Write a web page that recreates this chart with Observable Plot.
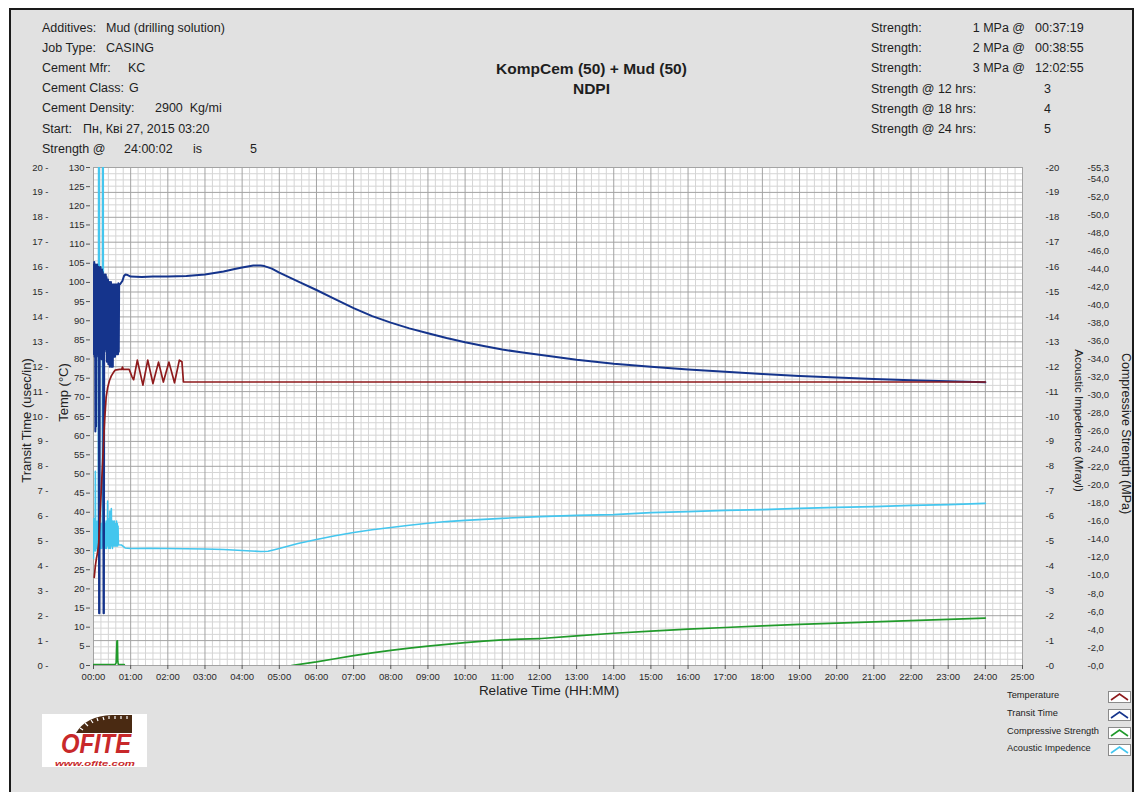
<!DOCTYPE html>
<html>
<head>
<meta charset="utf-8">
<script src="https://cdn.jsdelivr.net/npm/d3@7"></script>
<script src="https://cdn.jsdelivr.net/npm/@observablehq/plot@0.6"></script>
<style>
  html, body { margin: 0; padding: 0; background: #ffffff; }
  #page { position: relative; width: 1138px; height: 792px; overflow: hidden;
          font-family: "Liberation Sans", Arial, sans-serif; color: #1e1e1e; }
  #panel { position: absolute; left: 9px; top: 8px; width: 1121px; height: 800px;
           background: #e1e1e1; border: 2px solid #1a1a1a; border-bottom: none; }
  .t { position: absolute; font-size: 12.5px; line-height: 14px; white-space: pre; transform: translateY(-7px); }
  .title { position: absolute; left: 0; width: 1183px; text-align: center; font-weight: bold;
           font-size: 15.5px; line-height: 18px; transform: translateY(-9px); }
  #chart { position: absolute; left: 0; top: 155px; }
  .leg { position: absolute; left: 1007px; font-size: 9.3px; line-height: 12px; transform: translateY(-6px); color: #222; }
  .sw { position: absolute; left: 1108px; width: 23px; height: 12px; }
  #logo { position: absolute; left: 42px; top: 714px; width: 105px; height: 53px; background: #fff; }
</style>
</head>
<body>
<div id="page">
  <div id="panel"></div>
  <div id="header"></div>
  <div id="chart"></div>
  <div id="legend"></div>
  <div id="logo">
    <svg width="105" height="53" viewBox="0 0 105 53">
      <path d="M34 19 Q44 2 70 1 L90 1 L90 19 Z" fill="#4a2a12"/>
      <path d="M38 14 L41 16 M43 9 L46 12 M49 6 L51 9 M55 4 L56 7 M61 3 L62 6 M67 2 L67 5 M73 2 L73 5 M79 2 L79 5 M85 2 L85 5"
            stroke="#ffffff" stroke-width="1.2"/>
      <text x="54" y="38.5" text-anchor="middle" font-family="Liberation Sans, Arial, sans-serif"
            font-weight="bold" font-style="italic" font-size="27" fill="#c8282a"
            textLength="70" lengthAdjust="spacingAndGlyphs">OFITE</text>
      <text x="53" y="51.5" text-anchor="middle" font-family="Liberation Sans, Arial, sans-serif"
            font-weight="bold" font-style="italic" font-size="7.5" fill="#c8282a"
            textLength="80" lengthAdjust="spacingAndGlyphs">www.ofite.com</text>
    </svg>
  </div>
</div>
<script>
// ---- Test information -------------------------------------------------------
const jobInfo = [
  ["Additives:", "Mud (drilling solution)"],
  ["Job Type:", "CASING"],
  ["Cement Mfr:", "KC"],
  ["Cement Class:", "G"],
  ["Cement Density:", "2900  Kg/mi"],
  ["Start:", "Пн, Кві 27, 2015 03:20"],
  ["Strength @", "24:00:02"]
];
const finalStrengthWord = "is";
const finalStrengthValue = "5";
const chartTitle = "KompCem (50) + Mud (50)";
const chartSubtitle = "NDPI";
const strengthLabels = ["Strength:", "Strength:", "Strength:", "Strength @ 12 hrs:", "Strength @ 18 hrs:", "Strength @ 24 hrs:"];
const strengthTargets = ["1 MPa @", "2 MPa @", "3 MPa @", "", "", ""];
const strengthValues = ["00:37:19", "00:38:55", "12:02:55", "3", "4", "5"];

// ---- Series (time in hours) ---------------------------------------------------
// Temperature, °C
const temperature = [
  [0.02,23.0],[0.05,26.0],[0.08,28.0],[0.11,29.5],[0.14,32.0],[0.18,40.0],[0.22,48.0],[0.26,56.0],
  [0.30,64.0],[0.34,70.0],[0.38,72.5],[0.43,74.4],[0.48,75.6],[0.53,76.4],[0.58,77.1],[0.70,77.3],
  [0.76,77.3],[0.78,77.9],[0.80,77.3],[0.96,77.3],[1.04,75.3],[1.08,74.6],[1.18,79.7],[1.33,73.2],
  [1.46,79.7],[1.60,73.6],[1.75,79.2],[1.88,74.0],[2.03,79.2],[2.18,73.8],[2.31,79.7],[2.38,79.3],
  [2.42,74.0],[24.0,74.0]
];

// Transit time, usec/in
const transitTime = [
  [0.00,16.1],[0.01,12.5],[0.02,16.2],[0.03,12.4],[0.04,16.0],[0.05,9.4],[0.06,16.1],[0.07,9.6],
  [0.08,16.0],[0.09,12.6],[0.10,16.1],[0.11,12.5],[0.12,15.9],[0.13,12.4],[0.14,16.0],[0.15,2.1],
  [0.16,2.1],[0.17,15.9],[0.18,12.5],[0.19,16.0],[0.20,12.6],[0.21,15.8],[0.22,12.3],[0.23,15.9],
  [0.24,12.5],[0.25,15.8],[0.26,12.4],[0.27,2.1],[0.28,2.1],[0.29,15.7],[0.30,12.6],[0.31,15.6],
  [0.32,13.0],[0.33,15.7],[0.34,12.7],[0.35,15.6],[0.36,12.2],[0.37,15.5],[0.38,12.4],[0.39,15.5],
  [0.40,12.1],[0.41,15.4],[0.42,12.3],[0.43,15.4],[0.44,12.0],[0.45,15.3],[0.46,12.1],[0.47,15.4],
  [0.48,12.0],[0.49,15.3],[0.50,12.2],[0.51,15.3],[0.52,12.0],[0.53,15.3],[0.54,12.4],[0.55,15.3],
  [0.56,12.5],[0.57,15.3],[0.58,12.4],[0.59,15.3],[0.60,12.6],[0.61,15.3],[0.62,12.5],[0.63,15.3],
  [0.64,12.6],[0.65,15.3],[0.66,12.5],[0.67,15.35],[0.68,12.6],[0.69,15.3],
  [0.72,15.32],[0.78,15.45],[0.82,15.64],[0.86,15.70],[0.92,15.68],[1.0,15.62],[1.3,15.60],
  [1.6,15.62],[2.0,15.62],[2.5,15.64],[3.0,15.70],[3.5,15.82],[3.8,15.92],[4.0,15.98],[4.3,16.06],
  [4.5,16.06],[4.6,16.04],[4.8,15.94],[5.0,15.78],[5.5,15.43],[6.0,15.08],[6.5,14.71],[7.0,14.35],
  [7.5,14.03],[8.0,13.77],[8.5,13.54],[9.0,13.34],[9.5,13.15],[10.0,12.98],[10.5,12.83],[11.0,12.69],
  [11.5,12.58],[12.0,12.48],[13.0,12.28],[14.0,12.12],[15.0,12.00],[16.0,11.89],[17.0,11.80],
  [18.0,11.71],[19.0,11.63],[20.0,11.57],[21.0,11.51],[22.0,11.46],[23.0,11.42],[24.0,11.38]
];

// Acoustic impedence, Mrayl
const acousticImpedence = [
  [0.00,4.3],[0.01,5.9],[0.02,4.6],[0.03,5.8],[0.04,4.7],[0.05,7.8],[0.06,4.6],[0.07,5.8],
  [0.08,4.7],[0.09,5.7],[0.10,4.7],[0.11,5.8],[0.12,4.6],[0.13,5.7],[0.14,25],[0.15,25],
  [0.16,4.7],[0.17,5.7],[0.18,4.7],[0.19,5.6],[0.20,4.8],[0.21,5.7],[0.22,4.7],[0.23,5.6],
  [0.24,4.8],[0.25,25],[0.26,25],[0.27,4.7],[0.28,5.6],[0.29,4.8],[0.30,5.7],[0.31,4.7],
  [0.32,5.6],[0.33,4.8],[0.34,5.8],[0.35,4.7],[0.36,5.7],[0.37,4.8],[0.38,6.6],[0.39,4.8],
  [0.40,5.8],[0.41,4.7],[0.42,5.9],[0.43,4.8],[0.44,6.2],[0.45,4.7],[0.46,5.8],[0.47,4.8],
  [0.48,6.3],[0.49,4.8],[0.50,5.7],[0.51,4.7],[0.52,5.8],[0.53,4.8],[0.54,5.7],[0.55,4.8],
  [0.56,5.8],[0.57,4.8],[0.58,5.7],[0.59,4.8],[0.60,5.7],[0.61,4.8],[0.62,5.8],[0.63,4.8],
  [0.64,5.7],[0.65,4.8],[0.66,5.6],[0.67,4.85],[0.68,4.85],
  [0.75,4.84],[0.85,4.72],[1.0,4.70],[1.5,4.71],[2.0,4.70],[2.5,4.69],[3.0,4.68],[3.5,4.66],
  [4.0,4.62],[4.5,4.58],[4.7,4.59],[5.0,4.70],[5.5,4.90],[6.0,5.06],[6.5,5.21],[7.0,5.34],
  [7.5,5.45],[8.0,5.54],[8.5,5.63],[9.0,5.71],[9.5,5.78],[10.0,5.83],[11.0,5.91],[12.0,5.98],
  [13.0,6.03],[14.0,6.06],[15.0,6.14],[16.0,6.18],[17.0,6.23],[18.0,6.26],[19.0,6.31],[20.0,6.35],
  [21.0,6.38],[22.0,6.43],[23.0,6.46],[24.0,6.51]
];

// Compressive strength, MPa (early reading, then the curing curve)
const strengthEarly = [
  [0.00,0.1],[0.58,0.1],[0.61,0.3],[0.63,2.7],[0.645,2.75],[0.655,0.4],[0.67,0.1],[0.83,0.1]
];
const compressiveStrength = [
  [5.33,0.0],[5.5,0.1],[6.0,0.4],[6.5,0.75],[7.0,1.1],[7.5,1.4],[8.0,1.68],[8.5,1.92],[9.0,2.15],
  [9.5,2.35],[10.0,2.53],[10.5,2.7],[11.0,2.84],[11.5,2.93],[12.0,2.99],[12.05,3.0],[13.0,3.3],
  [14.0,3.58],[15.0,3.82],[16.0,4.03],[17.0,4.22],[18.0,4.4],[19.0,4.56],[20.0,4.7],[21.0,4.84],
  [22.0,4.98],[23.0,5.12],[24.0,5.27]
];

// ---- Axes ----------------------------------------------------------------------
const hourTicks = d3.range(0, 26);
const tempTicks = d3.range(0, 131, 5);
const transitTicks = d3.range(0, 21);
const acousticTicks = d3.range(0, 21);
const strengthTicks = [...d3.range(0, 55, 2), 55.3];

const seriesNames = ["Temperature", "Transit Time", "Compressive Strength", "Acoustic Impedence"];
const seriesColors = ["#8e1a1c", "#15348c", "#219a2b", "#44c6ee"];

// All series share the °C scale; the other axes are rescaled onto it.
const TT = 130 / 20;      // usec/in and Mrayl -> °C axis units
const CS = 130 / 55.3;    // MPa -> °C axis units

const minorHours = d3.range(0, 25.001, 0.2).filter(h => Math.abs(h - Math.round(h)) > 1e-6);
const minorLevels = d3.range(0, 20.001, 0.25).filter(v => Math.abs(v - Math.round(v)) > 1e-6);

const fmtHour = h => `${String(h).padStart(2, "0")}:00`;
const fmtMPa = v => "-" + v.toFixed(1).replace(".", ",");

const chart = Plot.plot({
  width: 1138,
  height: 545,
  marginLeft: 93,
  marginRight: 116,
  marginTop: 12,
  marginBottom: 35,
  style: {background: "transparent", fontFamily: "Liberation Sans, Arial, sans-serif", fontSize: "9.5px", color: "#2a2a2a", overflow: "visible"},
  x: {domain: [0, 25]},
  y: {domain: [0, 130]},
  marks: [
    Plot.frame({fill: "#ffffff", stroke: null}),
    // grid
    Plot.ruleX(minorHours, {stroke: "#d5d5d5", strokeWidth: 1}),
    Plot.ruleY(minorLevels, {y: d => d * TT, stroke: "#d5d5d5", strokeWidth: 1}),
    Plot.ruleX(hourTicks, {stroke: "#a3a3a3", strokeWidth: 1}),
    Plot.ruleY(transitTicks, {y: d => d * TT, stroke: "#a3a3a3", strokeWidth: 1}),
    // series
    Plot.line(acousticImpedence, {x: d => d[0], y: d => d[1] * TT, stroke: seriesColors[3], strokeWidth: 1.6, clip: true}),
    Plot.line(transitTime, {x: d => d[0], y: d => d[1] * TT, stroke: seriesColors[1], strokeWidth: 2, clip: true}),
    Plot.line(temperature, {x: d => d[0], y: d => d[1], stroke: seriesColors[0], strokeWidth: 1.7, clip: true}),
    Plot.line(strengthEarly, {x: d => d[0], y: d => d[1] * CS, stroke: seriesColors[2], strokeWidth: 1.6, clip: true}),
    Plot.line(compressiveStrength, {x: d => d[0], y: d => d[1] * CS, stroke: seriesColors[2], strokeWidth: 1.7, clip: true}),
    // bottom axis
    Plot.axisX({ticks: hourTicks, tickFormat: fmtHour, tickSize: 4, tickPadding: 4, label: null, stroke: "#555"}),
    Plot.text(["Relative Time (HH:MM)"], {frameAnchor: "bottom", dy: 29, dx: -9, fontSize: 13.5, fill: "#222"}),
    // left axes
    Plot.axisY({ticks: tempTicks, tickSize: 4, tickPadding: 2, dx: -3, label: null, stroke: "#555"}),
    Plot.text(transitTicks, {frameAnchor: "left", y: d => d * TT, text: d => `${d} -`, textAnchor: "end", dx: -45, fill: "#2a2a2a"}),
    Plot.text(["Transit Time (usec/in)"], {frameAnchor: "left", textAnchor: "middle", rotate: -90, dx: -67, dy: 4, fontSize: 13, fill: "#222"}),
    Plot.text(["Temp (°C)"], {frameAnchor: "left", textAnchor: "middle", rotate: -90, dx: -30, dy: -24, fontSize: 13, fill: "#222"}),
    // right axes
    Plot.text(acousticTicks, {frameAnchor: "right", y: d => d * TT, text: d => `-${d}`, textAnchor: "start", dx: 23, fill: "#2a2a2a"}),
    Plot.text(strengthTicks, {frameAnchor: "right", y: d => d * CS, text: fmtMPa, textAnchor: "start", dx: 65, fill: "#2a2a2a"}),
    Plot.text(["Acoustic Impedence (Mrayl)"], {frameAnchor: "right", textAnchor: "middle", rotate: 90, dx: 56, dy: 4, fontSize: 11.5, fill: "#222"}),
    Plot.text(["Compressive Strength (MPa)"], {frameAnchor: "right", textAnchor: "middle", rotate: 90, dx: 103, dy: 17, fontSize: 12.5, fill: "#222"})
  ]
});
document.getElementById("chart").appendChild(chart);

// ---- Header text -----------------------------------------------------------------
const header = document.getElementById("header");
function put(text, x, y, cls = "t", extra = "") {
  const el = document.createElement("div");
  el.className = cls;
  el.style.left = x + "px";
  el.style.top = y + "px";
  if (extra) el.style.cssText += extra;
  el.textContent = text;
  header.appendChild(el);
}
const rowY = i => 28 + i * 20.1;
const valueX = [106, 106, 128, 129, 155, 83, 124];
jobInfo.forEach(([label, value], i) => {
  put(label, 42, rowY(i));
  put(value, valueX[i], rowY(i));
});
put(finalStrengthWord, 193, rowY(6));
put(finalStrengthValue, 250, rowY(6));

const ttl = document.createElement("div");
ttl.className = "title"; ttl.style.top = "69px"; ttl.textContent = chartTitle;
header.appendChild(ttl);
const sub = document.createElement("div");
sub.className = "title"; sub.style.top = "89px"; sub.textContent = chartSubtitle;
header.appendChild(sub);

strengthLabels.forEach((label, i) => {
  const y = 28 + i * 20.2;
  put(label, 871, y);
  if (strengthTargets[i]) {
    put(strengthTargets[i], 1025, y, "t", "transform:translate(-100%,-7px);");
    put(strengthValues[i], 1035, y);
  } else {
    put(strengthValues[i], 1044, y);
  }
});

// ---- Legend --------------------------------------------------------------------------
const legend = document.getElementById("legend");
seriesNames.forEach((name, i) => {
  const y = 695 + i * 17.8;
  const lab = document.createElement("div");
  lab.className = "leg"; lab.style.top = y + "px"; lab.textContent = name;
  legend.appendChild(lab);
  const sw = document.createElement("div");
  sw.className = "sw"; sw.style.top = (y - 6) + "px";
  sw.innerHTML = `<svg width="23" height="12"><rect x="0.5" y="0.5" width="22" height="11" fill="#fff" stroke="#8a8a8a"/>
    <polyline points="3,9 11.5,3 20,9" fill="none" stroke="${seriesColors[i]}" stroke-width="1.6"/></svg>`;
  legend.appendChild(sw);
});
</script>
</body>
</html>
